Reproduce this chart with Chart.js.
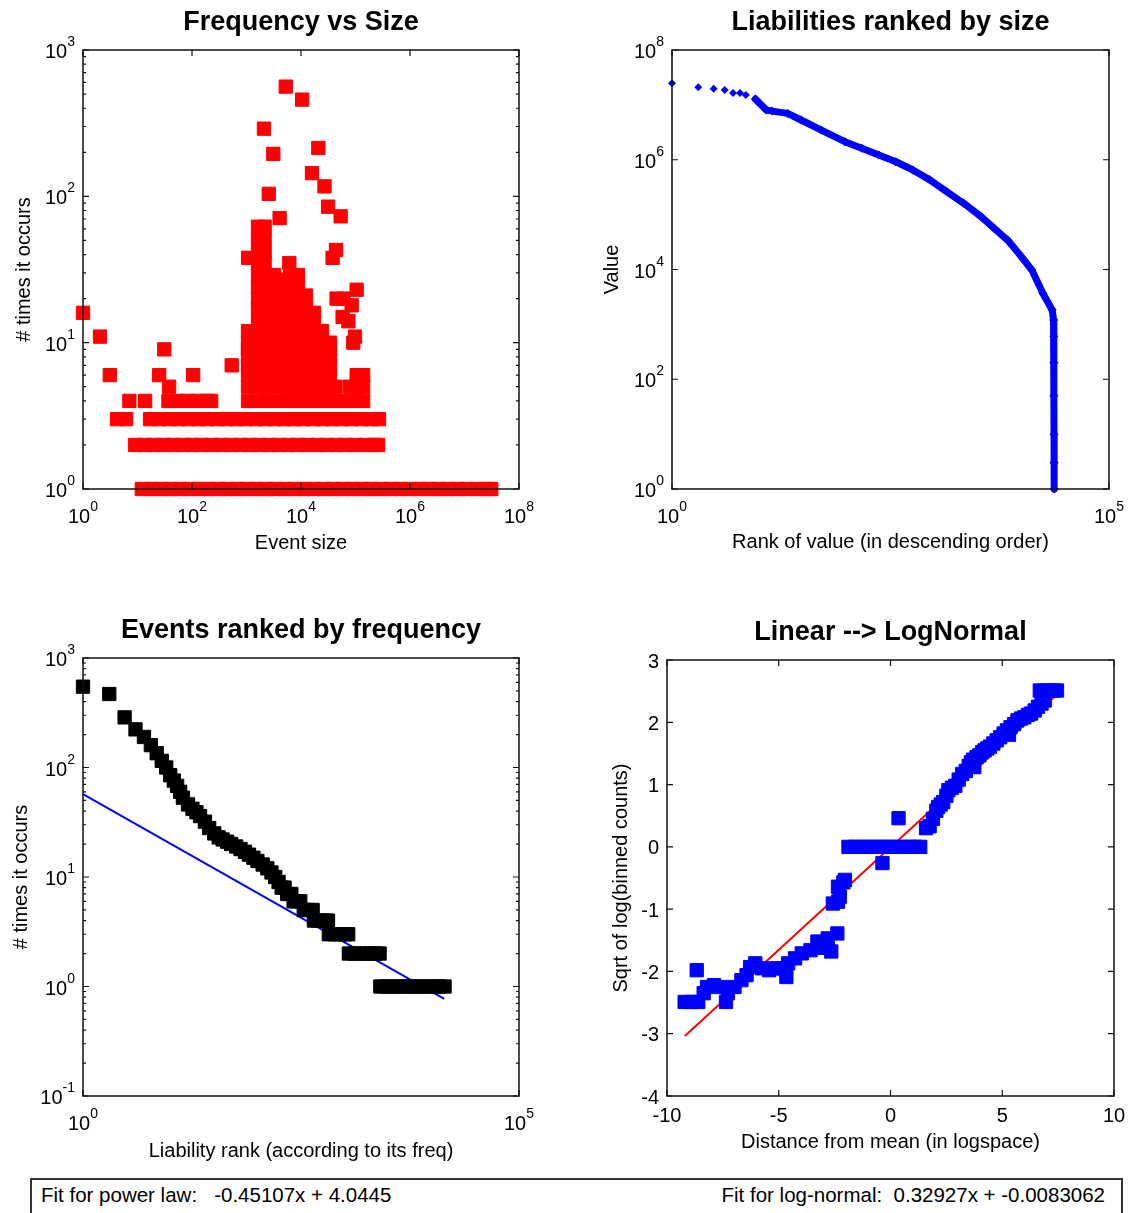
<!DOCTYPE html>
<html>
<head>
<meta charset="utf-8">
<title>Liabilities: frequency and size</title>
<script src="https://cdn.jsdelivr.net/npm/chart.js@4.4.1/dist/chart.umd.min.js"></script>
<style>
  html, body { margin: 0; padding: 0; background: #fff; }
  body { position: relative; width: 1133px; height: 1213px; overflow: hidden;
         font-family: "Liberation Sans", Arial, Helvetica, sans-serif; }
  canvas { position: absolute; }
  #fitBox { position: absolute; left: 30px; top: 1178px; width: 1093px; height: 60px;
            box-sizing: border-box; border: 2px solid #333; padding: 3px 16px 0 9px;
            display: flex; justify-content: space-between; font-size: 20.5px; white-space: pre; color: #000; }
</style>
</head>
<body>
<canvas id="sizeChart" width="566" height="575" style="left:0;top:0"></canvas>
<canvas id="rankChart" width="567" height="575" style="left:566px;top:0"></canvas>
<canvas id="eventChart" width="566" height="575" style="left:0;top:600px"></canvas>
<canvas id="normalChart" width="567" height="575" style="left:566px;top:600px"></canvas>
<div id="fitBox"><span id="powerText"></span><span id="normalText"></span></div>

<script>
// # Frequency vs Size: event sizes seen once, twice, three and four times
const onceSizes = [12, 18, 27, 40, 60, 90, 135, 200, 300, 450, 680, 1000, 1500, 2300, 3400, 5100, 7700,
  11500, 17000, 26000, 39000, 58000, 87000, 130000, 195000, 290000, 440000, 660000, 1000000,
  1500000, 2200000, 3300000, 5000000, 7500000, 11000000, 17000000, 25000000, 31000000];
const twiceSizes = [9, 13.5, 20, 30, 45, 68, 100, 150, 230, 340, 510, 770, 1150, 1700, 2600, 3900, 5800,
  8700, 13000, 20000, 29000, 44000, 66000, 99000, 150000, 220000, 260000];
const thriceSizes = [4.2, 6.2, 17, 25, 38, 57, 86, 130, 190, 290, 430, 650, 970, 1500, 2200, 3300, 4900,
  7400, 11000, 17000, 25000, 37000, 56000, 84000, 130000, 190000, 270000];
const fourSizes = [7.1, 13.8, 37, 55, 83, 125, 190, 225];

// # the crowded middle: counts found at each size
const clusterSizes = [1066, 1626, 2150, 3200, 4480, 6280, 8810, 12360, 17330, 24290, 34050, 43000, 58000, 78700, 105000, 138000];
const clusterCounts = [
  [4, 5, 6, 7, 8, 9, 10, 12],
  [4, 5, 6, 7, 8, 9, 10, 12, 14, 17, 20, 24, 29, 35, 42, 51, 62],
  [4, 5, 6, 7, 8, 9, 10, 12, 14, 17, 20, 24, 29, 35, 42, 51, 62],
  [4, 5, 6, 7, 8, 9, 10, 12, 14, 17, 20, 24, 29],
  [4, 5, 6, 7, 8, 9, 10, 12, 14, 17, 20, 24, 27],
  [4, 5, 6, 7, 8, 9, 10, 12, 14, 17, 20, 24, 28],
  [4, 5, 6, 7, 8, 9, 10, 12, 14, 17, 20, 24, 29],
  [4, 5, 6, 7, 8, 9, 10, 12, 14, 17, 21],
  [4, 5, 6, 7, 8, 9, 10, 12, 14, 16],
  [4, 5, 6, 7, 8, 9, 10, 12],
  [4, 5, 6, 7, 8, 9, 10],
  [4, 5],
  [4],
  [4, 5],
  [4, 5, 6],
  [4, 5, 6],
];
const otherSizes = [1, 2.05, 3.1, 25, 31, 38, 105, 535, 1070, 4050, 2560, 2090, 3100, 5250, 10500, 20800, 15900,
  27000, 31400, 53500, 43900, 38000, 6100, 45000, 60000, 105000, 85000, 58000, 74000, 98000, 91000];
const otherCounts = [16, 11, 6, 6, 9, 5, 6, 7, 38, 71, 104, 290, 195, 562, 458, 214, 144,
  117, 85, 73, 43, 38, 35, 20, 20, 23, 18, 15, 14, 11, 10];

// # Liabilities ranked by size
const topRanks = [1, 2, 3, 4, 5, 6, 7];
const topValues = [2.47e7, 2.09e7, 1.97e7, 1.87e7, 1.64e7, 1.64e7, 1.51e7];
const curveRanks = [9, 10, 12, 14, 21, 30, 51, 95, 148, 232, 364, 570, 890, 1400, 2180, 3430, 4870, 6950,
  9970, 13100, 17500, 22400, 23200, 23350, 23400, 23450, 23500, 23550, 23600];
const curveValues = [1.28e7, 1.07e7, 8.1e6, 7.7e6, 7.0e6, 5.3e6, 3.47e6, 2.13e6, 1.62e6, 1.22e6, 9.2e5, 6.5e5,
  4.3e5, 2.6e5, 1.61e5, 9.2e4, 5.6e4, 3.4e4, 1.7e4, 9800, 3700, 1830, 1200, 600, 200, 50, 10, 3, 1];

// # Events ranked by frequency
const eventRanks = [1, 2, 3, 4, 5, 6, 7, 8, 9, 10, 11, 12, 13, 14, 16, 18, 20, 22, 25, 28, 32, 36, 40, 45,
  50, 57, 64, 72, 80, 90, 100, 115, 130, 145, 160, 175, 190, 205, 220, 245, 260, 285, 310, 340, 380, 430,
  445, 510, 580, 645, 660, 760, 870, 1000, 1100, 1120, 1300, 1500, 1750, 2000, 2250, 2520, 2570, 3000,
  3500, 4100, 4800, 5600, 6500, 7600, 8900, 10400, 12100, 14000];
const eventCounts = [547, 469, 287, 223, 190, 160, 135, 115, 100, 85, 76, 68, 60, 53, 46, 42, 39, 36, 32, 28,
  25, 23, 22, 21, 20, 19, 18, 17, 16, 15, 14, 13, 12, 11, 10, 9, 8, 8, 7, 7, 6, 6, 6, 5, 5, 5,
  4, 4, 4, 4, 3, 3, 3, 3, 3, 2, 2, 2, 2, 2, 2, 2, 1, 1, 1, 1, 1, 1, 1, 1, 1, 1, 1, 1];
const powerSlope = -0.45107;
const powerIntercept = 4.0445;
const powerRange = [1, 13900];

// # Linear --> LogNormal
const distX = [-9.21, -8.9, -8.6, -8.67, -8.36, -8.21, -7.9, -7.59, -7.36, -7.28, -6.98, -6.67, -6.44, -6.28,
  -6.05, -5.74, -5.43, -5.12, -4.81, -4.66, -4.58, -4.27, -3.97, -3.58, -3.27, -3.0, -2.81, -2.65, -2.38,
  -2.58, -2.35, -2.27, -2.35, -2.04, -2.11,
  -1.88, -1.58, -1.28, -0.98, -0.68, -0.38, -0.08, 0.22, 0.52, 0.82, 1.12, 1.33, -0.36, 0.36,
  1.59, 1.75, 1.9, 2.05, 2.13, 2.25, 2.36, 2.5, 2.59, 2.75, 2.9, 3.05, 3.21, 3.37, 3.5, 3.6, 3.7, 3.85,
  3.98, 4.1, 4.21, 4.33, 4.45, 4.6, 4.75, 4.91, 5.06, 5.21, 5.37, 5.53, 5.68, 5.84, 5.99, 6.15, 6.29,
  6.45, 6.6, 6.76, 6.9, 3.75, 5.3,
  6.68, 6.9, 7.07, 7.3, 7.45];
const sqrtY = [-2.49, -2.49, -2.49, -1.98, -2.35, -2.25, -2.22, -2.25, -2.49, -2.35, -2.25, -2.14, -2.06, -1.93,
  -1.87, -1.95, -1.98, -1.95, -1.95, -2.09, -1.87, -1.79, -1.71, -1.66, -1.52, -1.62, -1.47, -1.68, -1.39,
  -0.91, -0.88, -0.8, -0.64, -0.53, -0.57,
  0, 0, 0, 0, 0, 0, 0, 0, 0, 0, 0, 0, -0.26, 0.46,
  0.3, 0.33, 0.45, 0.58, 0.64, 0.68, 0.72, 0.82, 0.91, 0.95, 0.98, 1.08, 1.17, 1.22, 1.3, 1.36, 1.4, 1.44,
  1.47, 1.52, 1.55, 1.58, 1.61, 1.66, 1.71, 1.76, 1.82, 1.87, 1.92, 1.97, 2.03, 2.06, 2.08, 2.12, 2.14,
  2.19, 2.25, 2.3, 2.35, 1.28, 1.8,
  2.51, 2.51, 2.51, 2.51, 2.51];
const normalSlope = 0.32927;
const normalIntercept = -0.0083062;
const normalRange = [-9.2, 7.5];

// # Tick values and their labels
const sizeTicks = [1, 1e2, 1e4, 1e6, 1e8];
const sizeTickExps = ['0', '2', '4', '6', '8'];
const timesTicks = [1, 10, 100, 1000];
const timesTickExps = ['0', '1', '2', '3'];
const rankTicks = [1, 1e5];
const rankTickExps = ['0', '5'];
const valueTicks = [1, 1e2, 1e4, 1e6, 1e8];
const valueTickExps = ['0', '2', '4', '6', '8'];
const eventTimesTicks = [0.1, 1, 10, 100, 1000];
const eventTimesExps = ['-1', '0', '1', '2', '3'];
const distTicks = [-10, -5, 0, 5, 10];
const sqrtTicks = [-4, -3, -2, -1, 0, 1, 2, 3];

const FONT = '"Liberation Sans", Arial, Helvetica, sans-serif';
const RED = '#ff0000';
const BLUE = '#0000ff';

// # "10" with a raised exponent, y is the baseline of the "10"
const drawPower = (ctx, exp, x, y, align) => {
  ctx.font = `20px ${FONT}`;
  const baseW = ctx.measureText('10').width;
  ctx.font = `14px ${FONT}`;
  const expW = ctx.measureText(exp).width;
  const left = align === 'right' ? x - baseW - expW : x - (baseW + expW) / 2;
  ctx.textAlign = 'left';
  ctx.textBaseline = 'alphabetic';
  ctx.font = `20px ${FONT}`;
  ctx.fillText('10', left, y);
  ctx.font = `14px ${FONT}`;
  ctx.fillText(exp, left + baseW, y - 12);
};

// # Box, inward ticks, tick labels, title and axis titles
const framePlugin = {
  id: 'frame',
  afterDraw(chart, args, o) {
    const { ctx, chartArea: a } = chart;
    const sx = chart.scales.x;
    const sy = chart.scales.y;
    ctx.save();
    ctx.strokeStyle = '#111';
    ctx.fillStyle = '#000';
    ctx.lineWidth = 1.5;
    ctx.strokeRect(a.left, a.top, a.right - a.left, a.bottom - a.top);

    const tick = (isX, v, len) => {
      ctx.beginPath();
      if (isX) {
        const p = sx.getPixelForValue(v);
        ctx.moveTo(p, a.bottom); ctx.lineTo(p, a.bottom - len);
        ctx.moveTo(p, a.top); ctx.lineTo(p, a.top + len);
      } else {
        const p = sy.getPixelForValue(v);
        ctx.moveTo(a.left, p); ctx.lineTo(a.left + len, p);
        ctx.moveTo(a.right, p); ctx.lineTo(a.right - len, p);
      }
      ctx.stroke();
    };
    const minors = (scale) => {
      const out = [];
      for (let d = Math.floor(Math.log10(scale.min)); d < Math.log10(scale.max); d++) {
        for (let k = 2; k <= 9; k++) out.push(k * Math.pow(10, d));
      }
      return out;
    };

    ctx.lineWidth = 1.2;
    o.xTicks.forEach((v) => tick(true, v, 6));
    o.yTicks.forEach((v) => tick(false, v, 6));
    if (o.yMinor) minors(sy).forEach((v) => tick(false, v, 3));

    // tick labels
    o.xTicks.forEach((v, i) => {
      const p = sx.getPixelForValue(v);
      if (o.xPow) {
        drawPower(ctx, o.xText[i], p, a.bottom + 34, 'center');
      } else {
        ctx.font = `20px ${FONT}`;
        ctx.textAlign = 'center';
        ctx.textBaseline = 'alphabetic';
        ctx.fillText(o.xText[i], p, a.bottom + 26);
      }
    });
    o.yTicks.forEach((v, i) => {
      const p = sy.getPixelForValue(v);
      if (o.yPow) {
        drawPower(ctx, o.yText[i], a.left - 8, p + 8, 'right');
      } else {
        ctx.font = `20px ${FONT}`;
        ctx.textAlign = 'right';
        ctx.textBaseline = 'alphabetic';
        ctx.fillText(o.yText[i], a.left - 8, p + 7.5);
      }
    });

    const midX = (a.left + a.right) / 2;
    ctx.textAlign = 'center';
    ctx.textBaseline = 'alphabetic';
    ctx.font = `bold 27px ${FONT}`;
    ctx.fillText(o.title, midX, a.top - 20);
    ctx.font = `20px ${FONT}`;
    ctx.fillText(o.xLabel, midX, a.bottom + o.xLabelGap);

    ctx.translate(o.yLabelX, (a.top + a.bottom) / 2);
    ctx.rotate(-Math.PI / 2);
    ctx.textBaseline = 'middle';
    ctx.fillText(o.yLabel, 0, 0);
    ctx.restore();
  },
};

const makeChart = (id, datasets, scales, padding, frame) => new Chart(document.getElementById(id), {
  type: 'scatter',
  data: { datasets },
  options: {
    responsive: false,
    animation: false,
    events: [],
    layout: { padding, autoPadding: false },
    scales,
    plugins: { legend: { display: false }, tooltip: { enabled: false }, frame },
  },
  plugins: [framePlugin],
});

const squares = (data, color) => ({
  data,
  pointStyle: 'rect',
  pointRadius: 9.4,
  backgroundColor: color,
  borderColor: color,
  pointBackgroundColor: color,
  pointBorderColor: color,
  pointBorderWidth: 1,
  clip: false,
});

const band = (sizes, count) => sizes.map((s) => ({ x: s, y: count }));

// # Frequency vs Size
const freqPoints = [
  ...band(onceSizes, 1),
  ...band(twiceSizes, 2),
  ...band(thriceSizes, 3),
  ...band(fourSizes, 4),
  ...clusterSizes.flatMap((s, i) => clusterCounts[i].map((c) => ({ x: s, y: c }))),
  ...otherSizes.map((s, i) => ({ x: s, y: otherCounts[i] })),
];

makeChart('sizeChart', [squares(freqPoints, RED)], {
  x: { type: 'logarithmic', min: 1, max: 1e8, display: false },
  y: { type: 'logarithmic', min: 1, max: 1000, display: false },
}, { left: 83, top: 50, right: 47, bottom: 86 }, {
  title: 'Frequency vs Size', xLabel: 'Event size', yLabel: '# times it occurs',
  yLabelX: 24, xLabelGap: 60,
  xTicks: sizeTicks, xText: sizeTickExps, xPow: true,
  yTicks: timesTicks, yText: timesTickExps, yPow: true, yMinor: true,
});

// # Liabilities ranked by size
makeChart('rankChart', [
  {
    data: topRanks.map((r, i) => ({ x: r, y: topValues[i] })),
    pointStyle: 'rectRot', pointRadius: 4, pointBorderWidth: 0,
    backgroundColor: BLUE, pointBackgroundColor: BLUE, clip: false,
  },
  {
    data: curveRanks.map((r, i) => ({ x: r, y: curveValues[i] })),
    showLine: true, borderColor: BLUE, borderWidth: 7, borderJoinStyle: 'round', borderCapStyle: 'round',
    pointStyle: 'rectRot', pointRadius: 4.5, pointBorderWidth: 0,
    backgroundColor: BLUE, pointBackgroundColor: BLUE, clip: false,
  },
], {
  x: { type: 'logarithmic', min: 1, max: 1e5, display: false },
  y: { type: 'logarithmic', min: 1, max: 1e8, display: false },
}, { left: 106, top: 50, right: 24, bottom: 86 }, {
  title: 'Liabilities ranked by size', xLabel: 'Rank of value (in descending order)', yLabel: 'Value',
  yLabelX: 46, xLabelGap: 59,
  xTicks: rankTicks, xText: rankTickExps, xPow: true,
  yTicks: valueTicks, yText: valueTickExps, yPow: true,
});

// # Events ranked by frequency, with the power-law fit (natural logs)
const powerFit = powerRange.map((r) => ({ x: r, y: Math.exp(powerIntercept + powerSlope * Math.log(r)) }));

makeChart('eventChart', [
  squares(eventRanks.map((r, i) => ({ x: r, y: eventCounts[i] })), '#000'),
  { data: powerFit, showLine: true, borderColor: BLUE, borderWidth: 2, pointRadius: 0, clip: false },
], {
  x: { type: 'logarithmic', min: 1, max: 1e5, display: false },
  y: { type: 'logarithmic', min: 0.1, max: 1000, display: false },
}, { left: 83, top: 58, right: 47, bottom: 79 }, {
  title: 'Events ranked by frequency', xLabel: 'Liability rank (according to its freq)', yLabel: '# times it occurs',
  yLabelX: 21, xLabelGap: 61,
  xTicks: rankTicks, xText: rankTickExps, xPow: true,
  yTicks: eventTimesTicks, yText: eventTimesExps, yPow: true, yMinor: true,
});

// # Linear --> LogNormal, with the straight-line fit
const normalFit = normalRange.map((x) => ({ x, y: normalSlope * x + normalIntercept }));

makeChart('normalChart', [
  squares(distX.map((x, i) => ({ x, y: sqrtY[i] })), BLUE),
  { data: normalFit, showLine: true, borderColor: RED, borderWidth: 2, pointRadius: 0, clip: false },
], {
  x: { type: 'linear', min: -10, max: 10, display: false },
  y: { type: 'linear', min: -4, max: 3, display: false },
}, { left: 101, top: 60, right: 19, bottom: 79 }, {
  title: 'Linear --> LogNormal', xLabel: 'Distance from mean (in logspace)', yLabel: 'Sqrt of log(binned counts)',
  yLabelX: 55, xLabelGap: 52,
  xTicks: distTicks, xText: distTicks.map(String), xPow: false,
  yTicks: sqrtTicks, yText: sqrtTicks.map(String), yPow: false,
});

// # Fit summary under the plots
document.getElementById('powerText').textContent = `Fit for power law:   ${powerSlope}x + ${powerIntercept}`;
document.getElementById('normalText').textContent = `Fit for log-normal:  ${normalSlope}x + ${normalIntercept}`;
</script>
</body>
</html>
